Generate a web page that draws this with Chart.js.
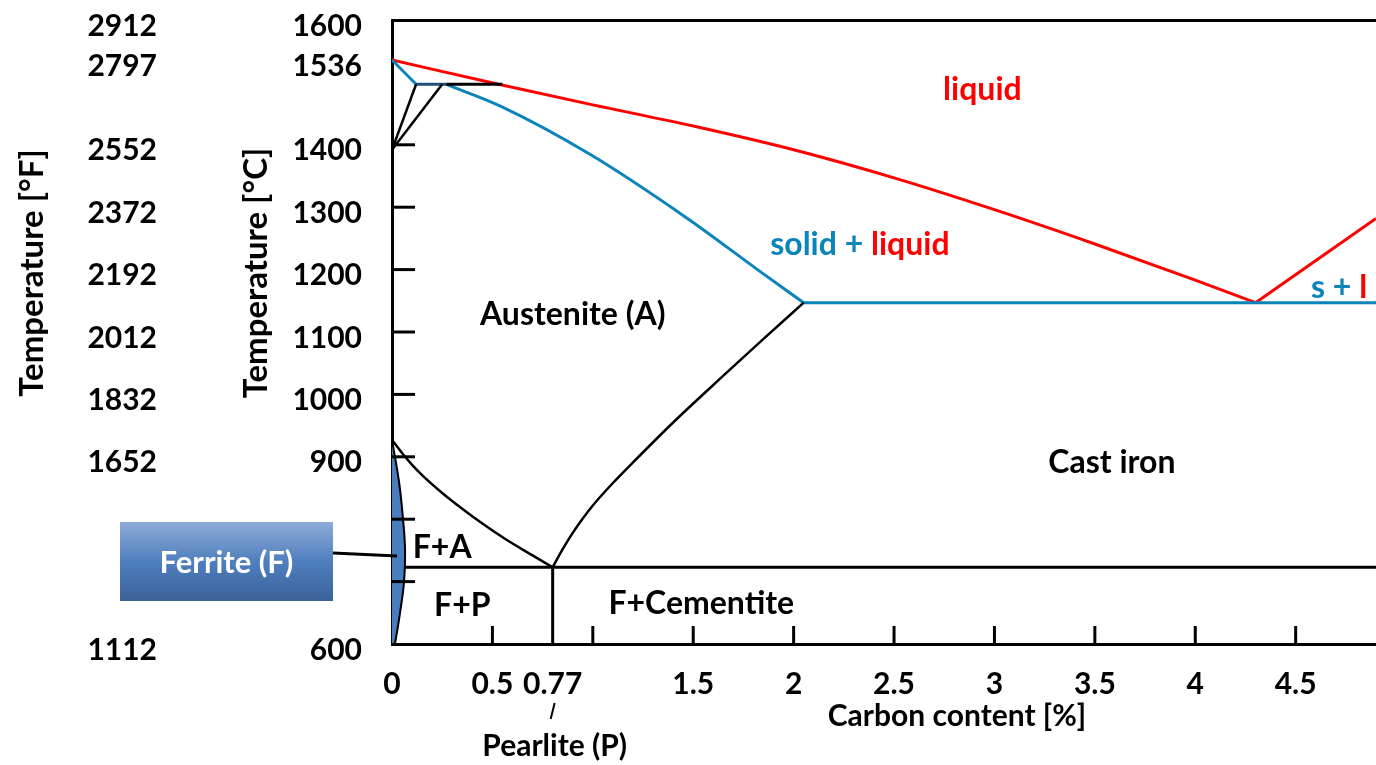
<!DOCTYPE html>
<html><head><meta charset="utf-8">
<script src="https://cdn.jsdelivr.net/npm/chart.js@4.4.1/dist/chart.umd.min.js"></script>
<style>html,body{margin:0;padding:0;background:#fff;}#wrap{width:1376px;height:765px;position:relative;}</style>
</head><body><div id="wrap"><canvas id="c"></canvas></div>
<script>
// ---- tick values / labels ----
const celsiusTicks = [600, 900, 1000, 1100, 1200, 1300, 1400, 1536, 1600];
const fahrenheitLabels = ['1112', '1652', '1832', '2012', '2192', '2372', '2552', '2797', '2912'];
const carbonTicks = [0, 0.5, 0.8, 1.5, 2, 2.5, 3, 3.5, 4, 4.5];
const carbonTickLabels = ['0', '0.5', '0.77', '1.5', '2', '2.5', '3', '3.5', '4', '4.5'];
const innerTicksX = [0.5, 1, 1.5, 2, 2.5, 3, 3.5, 4, 4.5];
const innerTicksY = [700, 800, 900, 1000, 1100, 1200, 1300, 1400];

// ---- phase boundary lines (carbon %, temperature °C) ----
const liquidusC = [0, 0.53, 1, 1.5, 2, 2.5, 3, 3.5, 4, 4.3];
const liquidusT = [1536, 1497, 1464, 1430, 1392, 1347, 1296, 1241, 1183, 1147];
const liquidusRightC = [4.3, 4.9];
const liquidusRightT = [1147, 1282];
const deltaSolidusC = [0, 0.12];
const deltaSolidusT = [1536, 1497];
const peritecticNavyC = [0.12, 0.27];
const peritecticNavyT = [1497, 1497];
const peritecticBlackC = [0.27, 0.55];
const peritecticBlackT = [1497, 1497];
const deltaGammaAC = [0, 0.12];
const deltaGammaAT = [1392, 1497];
const deltaGammaBC = [0, 0.25];
const deltaGammaBT = [1392, 1497];
const solidusC = [0.27, 0.54, 0.99, 1.48, 1.82, 2.05];
const solidusT = [1497, 1462, 1384, 1280, 1200, 1147];
const eutecticC = [2.05, 4.9];
const eutecticT = [1147, 1147];
const a3C = [0, 0.05, 0.1, 0.155, 0.25, 0.32, 0.45, 0.57, 0.7, 0.8];
const a3T = [927, 906, 887, 869, 842, 824, 793, 767, 742, 723];
const acmC = [0.8, 0.85, 0.9, 0.95, 1.0, 1.1, 1.2, 1.4, 1.65, 1.85, 2.05];
const acmT = [723, 752, 778, 801, 822, 858, 891, 955, 1030, 1089, 1147];
const eutectoidC = [0.065, 4.9];
const eutectoidT = [723, 723];
const pearliteC = [0.8, 0.8];
const pearliteT = [600, 723];
const ferriteC = [0, 0.035, 0.055, 0.065, 0.06, 0.04, 0.02, 0.012, 0];
const ferriteT = [927, 860, 800, 750, 700, 650, 610, 600, 600];

const pts = (xs, ts) => xs.map((x, i) => ({x: x, y: ts[i]}));
const RED = '#FF0000', BLUE = '#0A84BA', NAVY = '#1F4E79', BLACK = '#000000';
const FONT = 'Lato, "Open Sans", sans-serif';

function line(data, color, width, extra) {
  return Object.assign({data: data, borderColor: color, borderWidth: width, pointRadius: 0,
    fill: false, tension: 0}, extra || {});
}

const datasets = [
  line(pts(ferriteC, ferriteT), BLACK, 2, {fill: 'shape', backgroundColor: '#4A7CC0', tension: 0.4}),
  line(pts(a3C, a3T), BLACK, 2.5, {cubicInterpolationMode: 'monotone'}),
  line(pts(acmC, acmT), BLACK, 2.5, {cubicInterpolationMode: 'monotone'}),
  line(pts(eutectoidC, eutectoidT), BLACK, 3),
  line(pts(pearliteC, pearliteT), BLACK, 3),
  line(pts(deltaGammaAC, deltaGammaAT), BLACK, 2.5),
  line(pts(deltaGammaBC, deltaGammaBT), BLACK, 2.5),
  line(pts(peritecticBlackC, peritecticBlackT), BLACK, 3),
  line(pts(peritecticNavyC, peritecticNavyT), NAVY, 3),
  line(pts(solidusC, solidusT), BLUE, 3, {cubicInterpolationMode: 'monotone'}),
  line(pts(deltaSolidusC, deltaSolidusT), BLUE, 3),
  line(pts(eutecticC, eutecticT), BLUE, 3),
  line(pts(liquidusC, liquidusT), RED, 3, {cubicInterpolationMode: 'monotone'}),
  line(pts(liquidusRightC, liquidusRightT), RED, 3),
];

// ---- region labels (data positions) ----
const regionLabels = [
  {parts: [['liquid', RED]], x: 2.94, t: 1488},
  {parts: [['solid + ', BLUE], ['liquid', RED]], x: 2.33, t: 1240},
  {parts: [['Austenite (A)', BLACK]], x: 0.9, t: 1128},
  {parts: [['Cast iron', BLACK]], x: 3.585, t: 890},
  {parts: [['s + ', BLUE], ['l', RED]], x: 4.716, t: 1171},
  {parts: [['F+A', BLACK]], x: 0.25, t: 754},
  {parts: [['F+P', BLACK]], x: 0.35, t: 662},
  {parts: [['F+Cementite', BLACK]], x: 1.54, t: 664},
];

const deco = {
  id: 'deco',
  afterDatasetsDraw(chart) {
    const ctx = chart.ctx, xs = chart.scales.x, ys = chart.scales.y, ca = chart.chartArea;
    ctx.save();
    ctx.strokeStyle = BLACK; ctx.lineWidth = 3; ctx.lineCap = 'butt';
    innerTicksY.forEach(v => { const y = ys.getPixelForValue(v);
      ctx.beginPath(); ctx.moveTo(ca.left, y); ctx.lineTo(ca.left + 23, y); ctx.stroke(); });
    innerTicksX.forEach(v => { const x = xs.getPixelForValue(v);
      ctx.beginPath(); ctx.moveTo(x, ca.bottom); ctx.lineTo(x, ca.bottom - 18); ctx.stroke(); });
    ctx.restore();
  },
  afterDraw(chart) {
    const ctx = chart.ctx, xs = chart.scales.x, ys = chart.scales.y, ca = chart.chartArea;
    ctx.save();
    ctx.textBaseline = 'middle';
    ctx.font = 'bold 32px ' + FONT;
    regionLabels.forEach(l => {
      const total = l.parts.reduce((s, p) => s + ctx.measureText(p[0]).width, 0);
      let x = xs.getPixelForValue(l.x) - total / 2;
      const y = ys.getPixelForValue(l.t);
      ctx.textAlign = 'left';
      l.parts.forEach(p => { ctx.fillStyle = p[1]; ctx.fillText(p[0], x, y); x += ctx.measureText(p[0]).width; });
    });
    // axis titles
    ctx.fillStyle = BLACK;
    ctx.textAlign = 'center';
    ctx.font = 'bold 30px ' + FONT;
    ctx.fillText('Carbon content [%]', 957, 716);
    ctx.font = 'bold 33px ' + FONT;
    [['Temperature [°F]', 32], ['Temperature [°C]', 256]].forEach(t => {
      ctx.save(); ctx.translate(t[1], 273); ctx.rotate(-Math.PI / 2);
      ctx.fillText(t[0], 0, 0); ctx.restore();
    });
    // pearlite annotation
    ctx.font = 'bold 30px ' + FONT;
    const px = xs.getPixelForValue(0.8);
    ctx.fillText('Pearlite (P)', px + 2, 746);
    ctx.strokeStyle = BLACK; ctx.lineWidth = 2;
    ctx.beginPath(); ctx.moveTo(px + 2, 703); ctx.lineTo(px - 2, 719); ctx.stroke();
    // ferrite box
    const bx = 120, by = 522, bw = 213, bh = 79;
    const g = ctx.createLinearGradient(0, by, 0, by + bh);
    g.addColorStop(0, '#8FACD8'); g.addColorStop(0.5, '#4F7FBF'); g.addColorStop(1, '#3A6299');
    ctx.fillStyle = g; ctx.fillRect(bx, by, bw, bh);
    ctx.fillStyle = '#FFFFFF'; ctx.font = 'bold 31px ' + FONT;
    ctx.fillText('Ferrite (F)', bx + bw / 2, by + bh / 2 + 1);
    ctx.strokeStyle = BLACK; ctx.lineWidth = 3;
    ctx.beginPath(); ctx.moveTo(bx + bw, 553); ctx.lineTo(xs.getPixelForValue(0.025), ys.getPixelForValue(741)); ctx.stroke();
    ctx.restore();
  }
};

const noPad = s => { s.paddingTop = 0; s.paddingBottom = 0; };
const tickFont = {family: FONT, size: 30, weight: 'bold'};
new Chart(document.getElementById('c'), {
  type: 'line',
  data: {datasets: datasets},
  options: {
    responsive: true, maintainAspectRatio: false, animation: false,
    layout: {padding: 0, autoPadding: false},
    plugins: {legend: {display: false}, tooltip: {enabled: false}},
    scales: {
      x: {
        type: 'linear', min: 0, max: 4.9, position: 'bottom',
        afterBuildTicks: s => { s.ticks = carbonTicks.map(v => ({value: v})); },
        ticks: {callback: (v, i) => carbonTickLabels[i], font: tickFont, color: BLACK, padding: 22,
          maxRotation: 0, autoSkip: false},
        grid: {display: false, drawTicks: false},
        border: {display: true, color: BLACK, width: 3},
        afterFit: s => { s.height = 121; s.paddingLeft = 0; s.paddingRight = 0; }
      },
      x2: {
        type: 'linear', min: 0, max: 4.9, position: 'top',
        ticks: {display: false}, grid: {display: false, drawTicks: false},
        border: {display: true, color: BLACK, width: 3},
        afterFit: s => { s.height = 20; s.paddingLeft = 0; s.paddingRight = 0; }
      },
      y: {
        type: 'linear', min: 600, max: 1600, position: 'left', weight: 0,
        afterBuildTicks: s => { s.ticks = celsiusTicks.map(v => ({value: v})); },
        ticks: {callback: v => String(v), font: tickFont, color: BLACK, padding: 30, autoSkip: false, labelOffset: 6},
        grid: {display: false, drawTicks: false},
        border: {display: true, color: BLACK, width: 3},
        afterFit: s => { s.width = 212; noPad(s); }
      },
      yF: {
        type: 'linear', min: 600, max: 1600, position: 'left', weight: 1,
        afterBuildTicks: s => { s.ticks = celsiusTicks.map(v => ({value: v})); },
        ticks: {callback: (v, i) => fahrenheitLabels[i], font: tickFont, color: BLACK, padding: 23, autoSkip: false, labelOffset: 6},
        grid: {display: false, drawTicks: false},
        border: {display: false},
        afterFit: s => { s.width = 180; noPad(s); }
      }
    }
  },
  plugins: [deco]
});
</script></body></html>
